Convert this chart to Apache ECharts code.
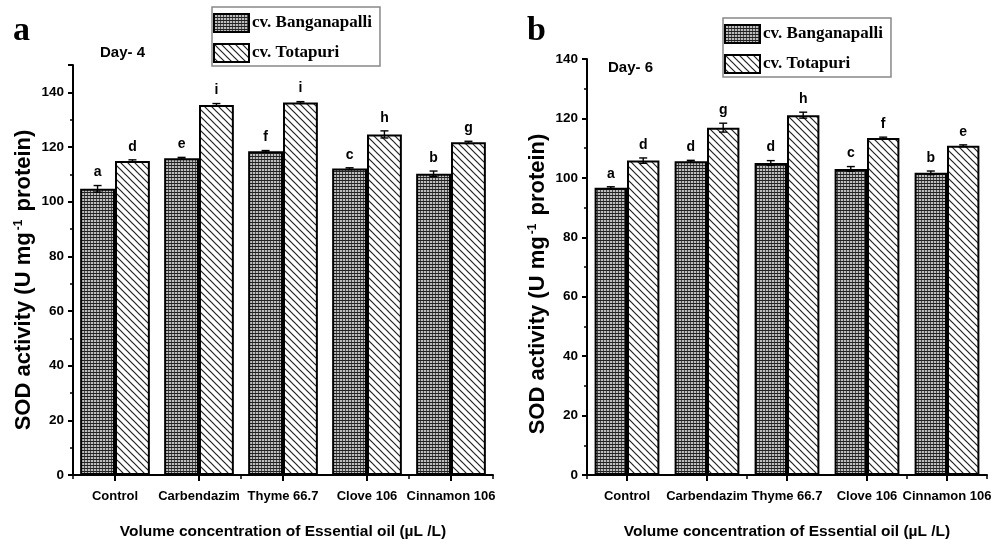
<!DOCTYPE html>
<html><head><meta charset="utf-8">
<script src="https://cdn.jsdelivr.net/npm/echarts@6/dist/echarts.min.js"></script>
<style>html,body{margin:0;padding:0;background:#fff}#c{width:1003px;height:545px}</style>
</head><body><div id="c"></div>
<script>
const categories = ['Control', 'Carbendazim', 'Thyme 66.7', 'Clove 106', 'Cinnamon 106'];
const seriesNames = ['cv. Banganapalli', 'cv. Totapuri'];
const day4Bang = [104.7, 115.9, 118.4, 112.1, 110.2];
const day4Tota = [114.9, 135.4, 136.3, 124.6, 121.7];
const day4BangErr = [1.2, 0.3, 0.3, 0.3, 1.0];
const day4TotaErr = [0.4, 0.5, 0.3, 1.3, 0.4];
const day4BangLetters = ['a', 'e', 'f', 'c', 'b'];
const day4TotaLetters = ['d', 'i', 'i', 'h', 'g'];
const day6Bang = [96.7, 105.6, 105.0, 103.0, 101.7];
const day6Tota = [105.8, 116.9, 121.1, 113.4, 110.8];
const day6BangErr = [0.3, 0.3, 0.8, 0.8, 0.6];
const day6TotaErr = [0.9, 1.5, 1.0, 0.3, 0.3];
const day6BangLetters = ['a', 'd', 'd', 'c', 'b'];
const day6TotaLetters = ['d', 'g', 'h', 'f', 'e'];
const panelLabels = ['a', 'b'];
const dayLabels = ['Day- 4', 'Day- 6'];
const yTitle = 'SOD activity (U mg{sup|-1} protein)';
const xTitle = 'Volume concentration of Essential oil (\u00b5L /L)';

const SANS = "'Liberation Sans', Arial, sans-serif";
const SERIF = "'Liberation Serif', 'Times New Roman', serif";

function gridPattern() {
  const c = document.createElement('canvas');
  c.width = 3; c.height = 3;
  const g = c.getContext('2d');
  g.fillStyle = '#bdbdbd'; g.fillRect(0, 0, 3, 3);
  g.fillStyle = '#222'; g.fillRect(0, 0, 3, 1);
  g.fillStyle = '#4a4a4a'; g.fillRect(0, 1, 1, 2);
  return { image: c, repeat: 'repeat' };
}
function hatchPattern() {
  const s = 7;
  const c = document.createElement('canvas');
  c.width = s; c.height = s;
  const g = c.getContext('2d');
  g.fillStyle = '#fff'; g.fillRect(0, 0, s, s);
  g.strokeStyle = '#222'; g.lineWidth = 1.2;
  for (const o of [-s, 0, s]) {
    g.beginPath(); g.moveTo(o - 1, -1); g.lineTo(o + s + 1, s + 1); g.stroke();
  }
  return { image: c, repeat: 'repeat' };
}
const bangColor = gridPattern();
const totaColor = hatchPattern();

const grids = [
  { left: 73, right: 510, top: 65, bottom: 67, max: 150, gap: 0.17 },
  { left: 587, right: 16, top: 59, bottom: 66, max: 140, gap: 0.19 }
];
const sets = [
  [day4Bang, day4Tota, day4BangErr, day4TotaErr, day4BangLetters, day4TotaLetters],
  [day6Bang, day6Tota, day6BangErr, day6TotaErr, day6BangLetters, day6TotaLetters]
];

const option = {
  animation: false,
  backgroundColor: '#fff',
  grid: grids.map(g => ({ left: g.left, right: g.right, top: g.top, bottom: g.bottom, containLabel: false })),
  xAxis: [],
  yAxis: [],
  series: [],
  legend: [
    { left: 212, top: 7 }, { left: 723, top: 18 }
  ].map(p => ({
    left: p.left, top: p.top, orient: 'vertical', data: seriesNames,
    icon: 'rect', itemWidth: 35, itemHeight: 18, itemGap: 10,
    padding: [6, 8, 3, 1], borderColor: '#888', borderWidth: 1.5,
    textStyle: { fontFamily: SERIF, fontWeight: 'bold', fontSize: 17, color: '#000', padding: [0, 0, 0, -2] },
    selectedMode: false
  })),
  graphic: []
};

grids.forEach((g, gi) => {
  const axisLineStyle = { color: '#000', width: 2 };
  option.xAxis.push({
    type: 'category', gridIndex: gi, data: categories, position: 'bottom',
    axisLine: { lineStyle: axisLineStyle },
    axisTick: { show: true, alignWithLabel: true, length: 6, lineStyle: { color: '#000', width: 2 } },
    axisLabel: { color: '#000', fontFamily: SANS, fontWeight: 'bold', fontSize: 13, margin: 15, interval: 0 },
    name: xTitle, nameLocation: 'middle', nameGap: 49,
    nameTextStyle: { color: '#000', fontFamily: SANS, fontWeight: 'bold', fontSize: 15.5 }
  });
  option.xAxis.push({
    type: 'category', gridIndex: gi, data: categories, position: 'bottom', offset: 0,
    axisLine: { show: false },
    axisTick: { show: true, alignWithLabel: false, length: 4, lineStyle: { color: '#000', width: 1.5 } },
    axisLabel: { show: false }
  });
  option.yAxis.push({
    type: 'value', gridIndex: gi, min: 0, max: g.max, interval: 20,
    axisLine: { show: true, lineStyle: axisLineStyle },
    axisTick: { show: true, length: 5, lineStyle: { color: '#000', width: 2 } },
    minorTick: { show: true, splitNumber: 2, length: 3, lineStyle: { color: '#000', width: 1.5 } },
    splitLine: { show: false },
    axisLabel: { color: '#000', fontFamily: SANS, fontWeight: 'bold', fontSize: 13.5, margin: 9, showMaxLabel: g.max === 140 }
  });
  const [bv, tv, be, te, bl, tl] = sets[gi];
  [[bv, bangColor], [tv, totaColor]].forEach(([vals, col], si) => {
    option.series.push({
      type: 'bar', name: seriesNames[si], xAxisIndex: gi * 2, yAxisIndex: gi,
      data: vals, barGap: '0%', barCategoryGap: (g.gap * 100) + '%',
      itemStyle: { color: col, borderColor: '#000', borderWidth: 2 },
      emphasis: { disabled: true }
    });
  });
  [[bv, be, bl, -1], [tv, te, tl, 1]].forEach(([vals, errs, letters, side]) => {
    option.series.push({
      type: 'custom', xAxisIndex: gi * 2, yAxisIndex: gi, z: 10, silent: true,
      data: vals.map((v, i) => [i, v, errs[i]]),
      renderItem(params, api) {
        const i = api.value(0), v = api.value(1), e = api.value(2);
        const cw = api.size([1, 0])[0];
        const bw = cw * (1 - g.gap) / 2;
        const cx = api.coord([i, v])[0] + side * bw / 2;
        const yt = api.coord([i, v + e])[1];
        const yb = api.coord([i, v - e])[1];
        const st = { stroke: '#000', lineWidth: 1.4 };
        return {
          type: 'group', children: [
            { type: 'line', shape: { x1: cx, y1: yt, x2: cx, y2: yb }, style: st },
            { type: 'line', shape: { x1: cx - 4, y1: yt, x2: cx + 4, y2: yt }, style: st },
            { type: 'line', shape: { x1: cx - 4, y1: yb, x2: cx + 4, y2: yb }, style: st },
            { type: 'text', x: cx, y: yt - 13, style: { text: letters[params.dataIndex], align: 'center', verticalAlign: 'middle', font: 'bold 14px ' + SANS, fill: '#000' } }
          ]
        };
      }
    });
  });
});

const supRich = { sup: { fontSize: 12, fontWeight: 'bold', fontFamily: SANS, verticalAlign: 'top', padding: [0, 2, 11, 2] } };
option.graphic = [
  { type: 'text', left: 13, top: 14, style: { text: panelLabels[0], font: 'bold 34px ' + SERIF, fill: '#000' } },
  { type: 'text', left: 527, top: 14, style: { text: panelLabels[1], font: 'bold 34px ' + SERIF, fill: '#000' } },
  { type: 'text', left: 100, top: 45, style: { text: dayLabels[0], font: 'bold 15px ' + SANS, fill: '#000' } },
  { type: 'text', left: 608, top: 60, style: { text: dayLabels[1], font: 'bold 15px ' + SANS, fill: '#000' } },
  { type: 'text', x: 24, y: 280, rotation: Math.PI / 2, style: { text: yTitle, font: 'bold 22px ' + SANS, fill: '#000', align: 'center', verticalAlign: 'middle', rich: supRich } },
  { type: 'text', x: 538, y: 284, rotation: Math.PI / 2, style: { text: yTitle, font: 'bold 22px ' + SANS, fill: '#000', align: 'center', verticalAlign: 'middle', rich: supRich } }
];

const chart = echarts.init(document.getElementById('c'), null, { renderer: 'canvas' });
chart.setOption(option);
</script>
</body></html>
